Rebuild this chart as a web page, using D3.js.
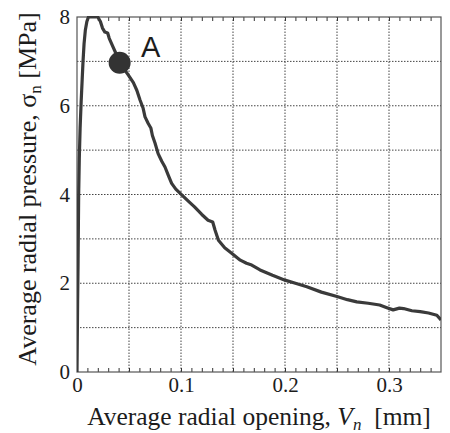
<!DOCTYPE html>
<html>
<head>
<meta charset="utf-8">
<script src="https://cdn.jsdelivr.net/npm/d3@7"></script>
<style>
  body { margin: 0; background: #fff; }
</style>
</head>
<body>
<svg width="450" height="433"></svg>
<script>
// opening V_n [mm] and radial pressure sigma_n [MPa]
var openV = [0, 0.0003, 0.0006, 0.001, 0.0013, 0.0016, 0.0022, 0.003, 0.004, 0.005,
  0.0058, 0.0068, 0.008, 0.0095, 0.011, 0.014, 0.017, 0.020, 0.0225, 0.0245,
  0.0268, 0.0295, 0.031, 0.0345, 0.038, 0.041, 0.0455, 0.0494, 0.0542, 0.0575,
  0.0606, 0.0635, 0.0654, 0.0685, 0.071, 0.0725, 0.075, 0.078, 0.0815, 0.0846,
  0.088, 0.091, 0.095, 0.1007, 0.107, 0.113, 0.12, 0.126, 0.1305, 0.1327,
  0.136, 0.142, 0.149, 0.157, 0.163, 0.168, 0.176, 0.188, 0.2, 0.21,
  0.221, 0.235, 0.25, 0.26, 0.269, 0.28, 0.291, 0.298, 0.304, 0.31,
  0.314, 0.322, 0.33, 0.338, 0.346, 0.35];
var pressS = [0, 0.8, 1.6, 2.4, 3.2, 4.0, 4.8, 5.5, 6.1, 6.6,
  7.0, 7.4, 7.7, 7.9, 8.0, 8.0, 8.0, 8.0, 7.9, 7.75,
  7.66, 7.64, 7.52, 7.33, 7.15, 6.97, 6.82, 6.69, 6.52, 6.35,
  6.13, 5.95, 5.75, 5.6, 5.5, 5.33, 5.16, 4.92, 4.75, 4.62,
  4.42, 4.25, 4.12, 3.99, 3.85, 3.72, 3.55, 3.42, 3.38, 3.2,
  2.97, 2.8, 2.67, 2.52, 2.45, 2.41, 2.30, 2.18, 2.07, 2.0,
  1.92, 1.80, 1.70, 1.63, 1.58, 1.55, 1.51, 1.45, 1.40, 1.44,
  1.43, 1.38, 1.36, 1.33, 1.28, 1.17];

var xLabels = [0, 0.1, 0.2, 0.3];
var yLabels = [0, 2, 4, 6, 8];
var xGrid = [0.05, 0.1, 0.15, 0.2, 0.25, 0.3];
var yGrid = [1, 2, 3, 4, 5, 6, 7];
var xMinor = d3.range(1, 35).map(function(i){ return i / 100; });

var pointA = { v: 0.041, s: 6.97, name: "A" };

var serif = '"Liberation Serif", "Times New Roman", serif';
var ink = '#1c1c1c';

var svg = d3.select('svg');

var x = d3.scaleLinear().domain([0, 0.35]).range([77, 441]);
var y = d3.scaleLinear().domain([0, 8]).range([372, 17]);

svg.append('clipPath').attr('id', 'plot')
  .append('rect')
  .attr('x', x(0)).attr('y', y(8) - 1)
  .attr('width', x(0.35) - x(0)).attr('height', y(0) - y(8) + 1);

// dotted grid
svg.append('g').selectAll('line')
  .data(xGrid).enter().append('line')
  .attr('x1', function(d){ return x(d); }).attr('x2', function(d){ return x(d); })
  .attr('y1', y(0)).attr('y2', y(8))
  .attr('stroke', '#444').attr('stroke-width', 1).attr('stroke-dasharray', '1.5,1.5');

svg.append('g').selectAll('line')
  .data(yGrid).enter().append('line')
  .attr('x1', x(0)).attr('x2', x(0.35))
  .attr('y1', function(d){ return y(d); }).attr('y2', function(d){ return y(d); })
  .attr('stroke', '#444').attr('stroke-width', 1).attr('stroke-dasharray', '1.5,1.5');

// minor ticks, top and bottom, pointing in
svg.append('g')
  .attr('transform', 'translate(0,' + y(0) + ')')
  .call(d3.axisBottom(x).tickValues(xMinor).tickSize(-4).tickFormat(''))
  .call(function(g){ g.select('.domain').remove(); g.selectAll('line').attr('stroke', '#333'); });

svg.append('g')
  .attr('transform', 'translate(0,' + y(8) + ')')
  .call(d3.axisTop(x).tickValues(xMinor).tickSize(-4).tickFormat(''))
  .call(function(g){ g.select('.domain').remove(); g.selectAll('line').attr('stroke', '#333'); });

// frame
svg.append('rect')
  .attr('x', x(0)).attr('y', y(8))
  .attr('width', x(0.35) - x(0)).attr('height', y(0) - y(8))
  .attr('fill', 'none').attr('stroke', '#555').attr('stroke-width', 1.2);

// tick labels
svg.append('g')
  .attr('transform', 'translate(0,' + y(0) + ')')
  .call(d3.axisBottom(x).tickValues(xLabels).tickSize(0).tickPadding(5)
    .tickFormat(function(d){ return d === 0 ? '0' : d3.format('.1f')(d); }))
  .call(function(g){
    g.select('.domain').remove();
    g.attr('font-family', serif).attr('font-size', 21);
    g.selectAll('text').attr('fill', ink);
  });

svg.append('g')
  .attr('transform', 'translate(' + x(0) + ',0)')
  .call(d3.axisLeft(y).tickValues(yLabels).tickSize(0).tickPadding(7).tickFormat(d3.format('d')))
  .call(function(g){
    g.select('.domain').remove();
    g.attr('font-family', serif).attr('font-size', 21);
    g.selectAll('text').attr('fill', ink);
  });

// curve
var pts = openV.map(function(v, i){ return [v, pressS[i]]; });
var line = d3.line()
  .x(function(d){ return x(d[0]); })
  .y(function(d){ return y(d[1]); });

svg.append('path')
  .datum(pts)
  .attr('clip-path', 'url(#plot)')
  .attr('d', line)
  .attr('fill', 'none')
  .attr('stroke', '#3a3a3a')
  .attr('stroke-width', 3.2)
  .attr('stroke-linejoin', 'round');

// point A
svg.append('circle')
  .attr('cx', x(pointA.v)).attr('cy', y(pointA.s)).attr('r', 11)
  .attr('fill', '#333');

svg.append('text')
  .attr('x', x(pointA.v) + 31).attr('y', y(pointA.s) - 6)
  .attr('text-anchor', 'middle')
  .attr('font-family', '"Liberation Sans", Arial, sans-serif')
  .attr('font-size', 29)
  .attr('fill', ink)
  .text(pointA.name);

// axis titles
var xt = svg.append('text')
  .attr('x', 259).attr('y', 425)
  .attr('text-anchor', 'middle')
  .attr('font-family', serif)
  .attr('font-size', 25.5)
  .attr('fill', ink);
xt.append('tspan').text('Average radial opening, ');
xt.append('tspan').attr('font-style', 'italic').text('V');
xt.append('tspan').attr('font-style', 'italic').attr('font-size', 17).attr('dy', 5).text('n');
xt.append('tspan').attr('dy', -5).text('\u00a0 [mm]');

var yt = svg.append('text')
  .attr('transform', 'translate(36,189) rotate(-90)')
  .attr('text-anchor', 'middle')
  .attr('font-family', serif)
  .attr('font-size', 26)
  .attr('fill', ink);
yt.append('tspan').text('Average radial pressure, \u03c3');
yt.append('tspan').attr('font-size', 17).attr('dy', 5).text('n');
yt.append('tspan').attr('dy', -5).text(' [MPa]');
</script>
</body>
</html>
